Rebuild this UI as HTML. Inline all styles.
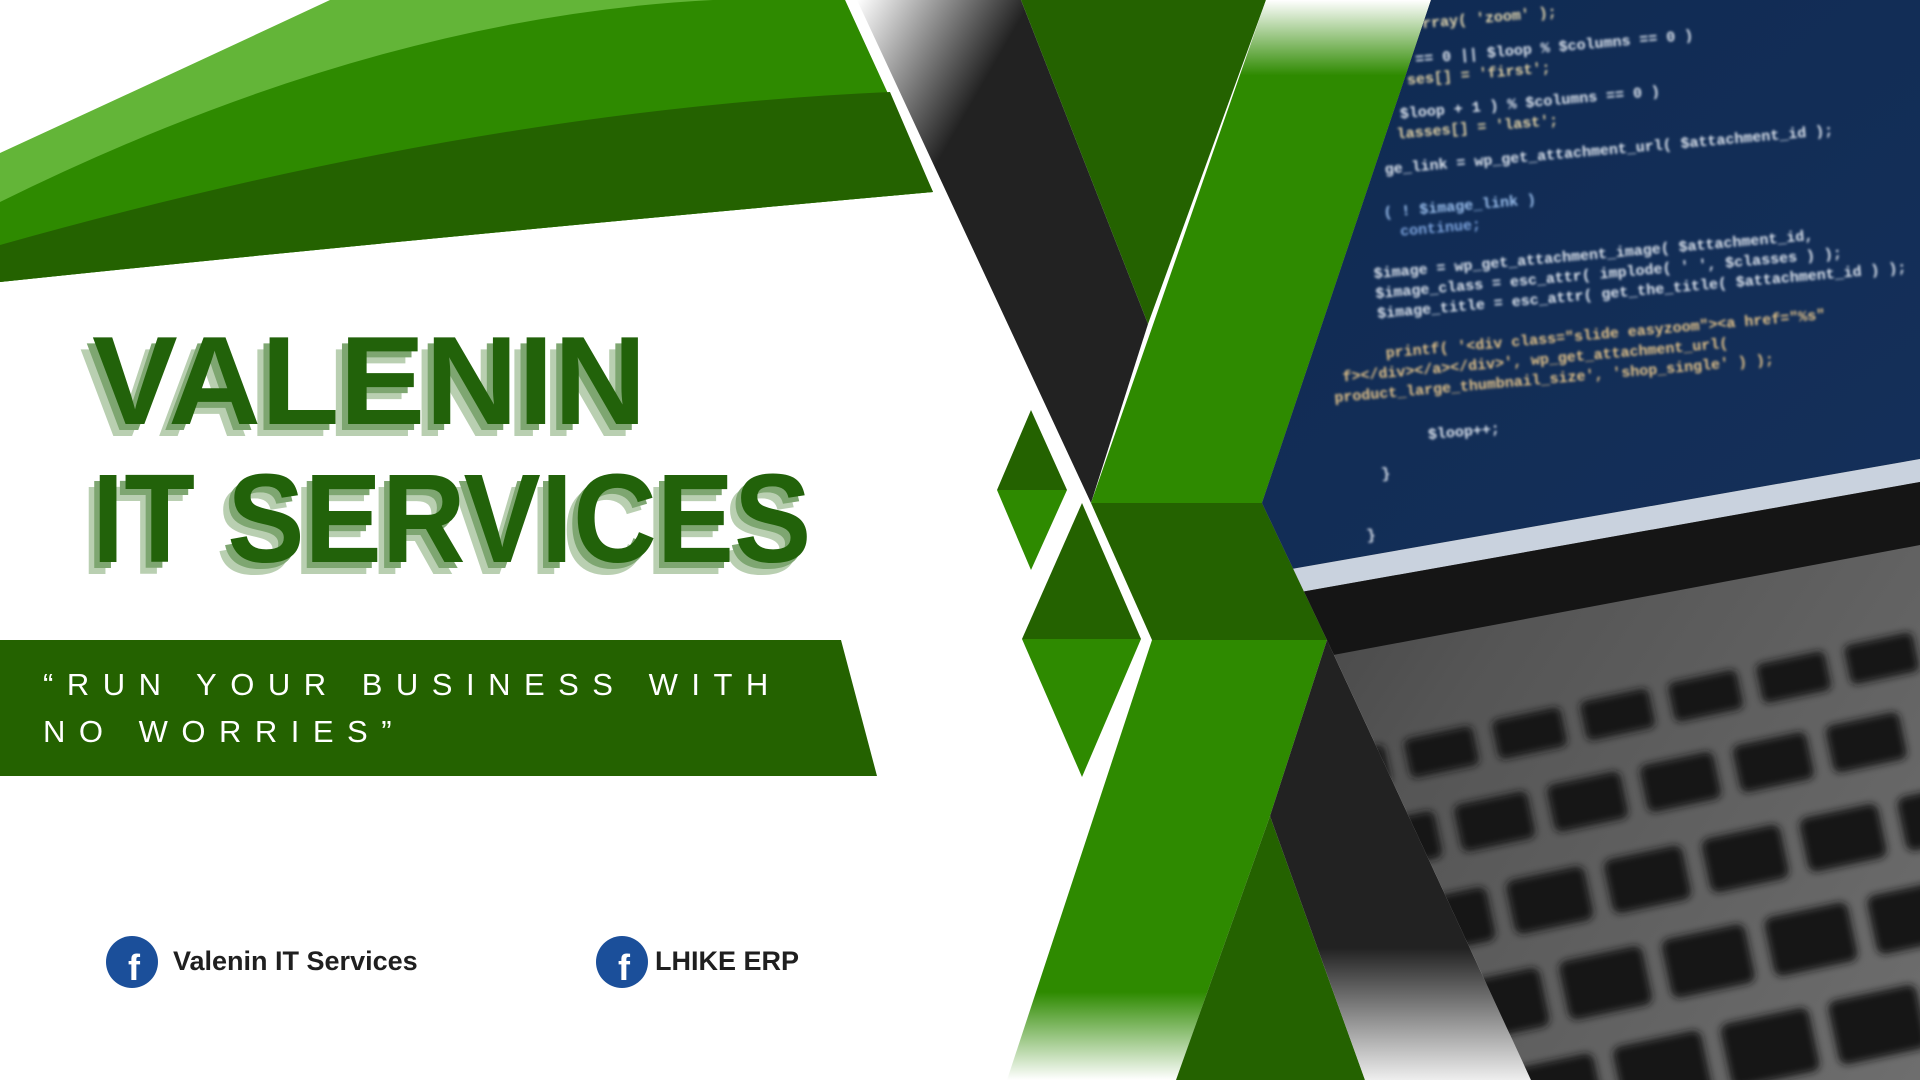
<!DOCTYPE html>
<html><head><meta charset="utf-8"><style>
html,body{margin:0;padding:0;width:1920px;height:1080px;overflow:hidden;background:#fff;position:relative}
svg{position:absolute;left:0;top:0}
.t{position:absolute;font-family:"Liberation Sans",sans-serif;font-weight:bold;color:#22620a;font-size:126px;line-height:1;white-space:nowrap;transform-origin:0 0;text-shadow:-6px 6px 0 #7ea671,-12px 12px 0 #b9cfb1}
.q{position:absolute;left:43px;font-family:"Liberation Sans",sans-serif;color:#fff;font-size:31px;letter-spacing:13.5px;white-space:nowrap}
.fb{position:absolute;font-family:"Liberation Sans",sans-serif;font-weight:bold;font-size:27px;color:#1f1f1f;white-space:nowrap}
</style></head><body>
<svg width="1920" height="1080" viewBox="0 0 1920 1080">
<defs>
<linearGradient id="gTop" x1="0" y1="0" x2="0" y2="1"><stop offset="0" stop-color="#fff"/><stop offset="0.15" stop-color="#2e8a00"/><stop offset="1" stop-color="#2e8a00"/></linearGradient>
<linearGradient id="gGreyTop" x1="0" y1="0" x2="1" y2="1"><stop offset="0" stop-color="#fff"/><stop offset="0.3" stop-color="#222"/><stop offset="1" stop-color="#222"/></linearGradient>
<linearGradient id="gBot" x1="0" y1="0" x2="0" y2="1"><stop offset="0" stop-color="#2e8a00"/><stop offset="0.8" stop-color="#2e8a00"/><stop offset="1" stop-color="#fff"/></linearGradient>
<linearGradient id="gGreyBot" x1="0" y1="0" x2="0" y2="1"><stop offset="0" stop-color="#222"/><stop offset="0.7" stop-color="#222"/><stop offset="1" stop-color="#eee"/></linearGradient>
<linearGradient id="kb" x1="0" y1="0" x2="1" y2="1"><stop offset="0" stop-color="#2a2a2a"/><stop offset="0.5" stop-color="#555"/><stop offset="1" stop-color="#6e6e6e"/></linearGradient>
<linearGradient id="scr" x1="0" y1="0" x2="1" y2="1"><stop offset="0" stop-color="#0f2a52"/><stop offset="1" stop-color="#15305a"/></linearGradient>
<clipPath id="ph"><polygon points="1431,0 1920,0 1920,1080 1531,1080 1327,640 1262,503"/></clipPath>
<filter id="bl"><feGaussianBlur stdDeviation="1.2"/></filter>
<filter id="bl2"><feGaussianBlur stdDeviation="4"/></filter>
</defs>
<path d="M330,0 L845,0 L933,192 Q400,240 0,282 L0,153 Q180,70 330,0Z" fill="#63b538"/>
<path d="M845,0 L933,192 Q400,240 0,282 L0,202 Q450,-20 845,0Z" fill="#2e8a00"/>
<path d="M890,92 L933,192 Q400,240 0,282 L0,245 Q480,110 890,92Z" fill="#246200"/>
<polygon points="857,0 1021,0 1148,324 1091,503" fill="url(#gGreyTop)"/>
<polygon points="1021,0 1266,0 1148,324" fill="#246200"/>
<polygon points="1266,0 1431,0 1262,503 1091,503" fill="url(#gTop)"/>
<polygon points="1091,503 1262,503 1327,640 1152,640" fill="#246200"/>
<polygon points="1031,410 1067,490 997,490" fill="#246200"/>
<polygon points="997,490 1067,490 1031,570" fill="#2e8a00"/>
<polygon points="1082,503 1141,639 1022,639" fill="#246200"/>
<polygon points="1022,639 1141,639 1082,777" fill="#2e8a00"/>
<polygon points="1152,640 1327,640 1270,816 1176,1080 1007,1080" fill="url(#gBot)"/>
<polygon points="1270,816 1365,1080 1176,1080" fill="#246200"/>
<polygon points="1327,640 1531,1080 1365,1080 1270,816" fill="url(#gGreyBot)"/>
<g clip-path="url(#ph)">
<rect x="1200" y="0" width="720" height="1080" fill="url(#kb)"/>
<polygon points="1200,0 1920,0 1920,459 1200,585" fill="url(#scr)"/>
<polygon points="1200,585 1920,459 1920,482 1200,610" fill="#c9d2de"/>
<polygon points="1200,610 1920,482 1920,545 1200,680" fill="#151515"/>
<g transform="rotate(-12 1600 800)" fill="#151515" filter="url(#bl2)">
<rect x="1330" y="700" width="70" height="40" rx="6"/><rect x="1420" y="700" width="70" height="40" rx="6"/><rect x="1510" y="700" width="70" height="40" rx="6"/><rect x="1600" y="700" width="70" height="40" rx="6"/><rect x="1690" y="700" width="70" height="40" rx="6"/><rect x="1780" y="700" width="70" height="40" rx="6"/><rect x="1870" y="700" width="70" height="40" rx="6"/>
<rect x="1360" y="775" width="75" height="48" rx="7"/><rect x="1455" y="775" width="75" height="48" rx="7"/><rect x="1550" y="775" width="75" height="48" rx="7"/><rect x="1645" y="775" width="75" height="48" rx="7"/><rect x="1740" y="775" width="75" height="48" rx="7"/><rect x="1835" y="775" width="75" height="48" rx="7"/>
<rect x="1390" y="860" width="80" height="55" rx="8"/><rect x="1490" y="860" width="80" height="55" rx="8"/><rect x="1590" y="860" width="80" height="55" rx="8"/><rect x="1690" y="860" width="80" height="55" rx="8"/><rect x="1790" y="860" width="80" height="55" rx="8"/><rect x="1890" y="860" width="80" height="55" rx="8"/>
<rect x="1420" y="950" width="85" height="60" rx="8"/><rect x="1525" y="950" width="85" height="60" rx="8"/><rect x="1630" y="950" width="85" height="60" rx="8"/><rect x="1735" y="950" width="85" height="60" rx="8"/><rect x="1840" y="950" width="85" height="60" rx="8"/>
<rect x="1450" y="1045" width="90" height="65" rx="8"/><rect x="1560" y="1045" width="90" height="65" rx="8"/><rect x="1670" y="1045" width="90" height="65" rx="8"/><rect x="1780" y="1045" width="90" height="65" rx="8"/>
</g>
<g font-family="Liberation Mono,monospace" font-size="15" font-weight="bold" transform="rotate(-5 1400 0)" filter="url(#bl)">
<text x="1420" y="30" fill="#e6d9b0">rray( 'zoom' );</text>
<text x="1410" y="65" fill="#dfe6f0">== 0 || $loop % $columns == 0 )</text>
<text x="1400" y="85" fill="#e8d7a8">ses[] = 'first';</text>
<text x="1390" y="118" fill="#dfe6f0">$loop + 1 ) % $columns == 0 )</text>
<text x="1385" y="138" fill="#e8d7a8">lasses[] = 'last';</text>
<text x="1370" y="172" fill="#dfe6f0">ge_link = wp_get_attachment_url( $attachment_id );</text>
<text x="1365" y="215" fill="#9cc1f0">( ! $image_link )</text>
<text x="1380" y="235" fill="#7fa6e0">continue;</text>
<text x="1350" y="275" fill="#dfe6f0">$image        = wp_get_attachment_image( $attachment_id,</text>
<text x="1350" y="295" fill="#dfe6f0">$image_class = esc_attr( implode( ' ', $classes ) );</text>
<text x="1350" y="315" fill="#dfe6f0">$image_title = esc_attr( get_the_title( $attachment_id ) );</text>
<text x="1355" y="355" fill="#e6c58a">printf( '&lt;div class="slide easyzoom"&gt;&lt;a href="%s"</text>
<text x="1310" y="375" fill="#e6c58a">f&gt;&lt;/div&gt;&lt;/a&gt;&lt;/div&gt;', wp_get_attachment_url(</text>
<text x="1300" y="395" fill="#e6c58a">product_large_thumbnail_size', 'shop_single' ) );</text>
<text x="1390" y="440" fill="#dfe6f0">$loop++;</text>
<text x="1340" y="475" fill="#dfe6f0">}</text>
<text x="1320" y="535" fill="#dfe6f0">}</text>
</g>
</g>
<polygon points="0,640 841,640 877,776 0,776" fill="#246200"/>
<circle cx="132" cy="962" r="26" fill="#1b4f9a"/>
<text x="134" y="980" font-family="Liberation Sans,sans-serif" font-weight="bold" font-size="36" fill="#fff" text-anchor="middle">f</text>
<circle cx="622" cy="962" r="26" fill="#1b4f9a"/>
<text x="624" y="980" font-family="Liberation Sans,sans-serif" font-weight="bold" font-size="36" fill="#fff" text-anchor="middle">f</text>
</svg>
<div class="t" style="left:92px;top:318px;transform:scaleX(1.02)">VALENIN</div>
<div class="t" style="left:92px;top:456px;transform:scaleX(0.92)">IT SERVICES</div>
<div class="q" style="top:667px">“RUN YOUR BUSINESS WITH</div>
<div class="q" style="top:714px">NO WORRIES”</div>
<div class="fb" style="left:173px;top:946px">Valenin IT Services</div>
<div class="fb" style="left:655px;top:946px">LHIKE ERP</div>
</body></html>
